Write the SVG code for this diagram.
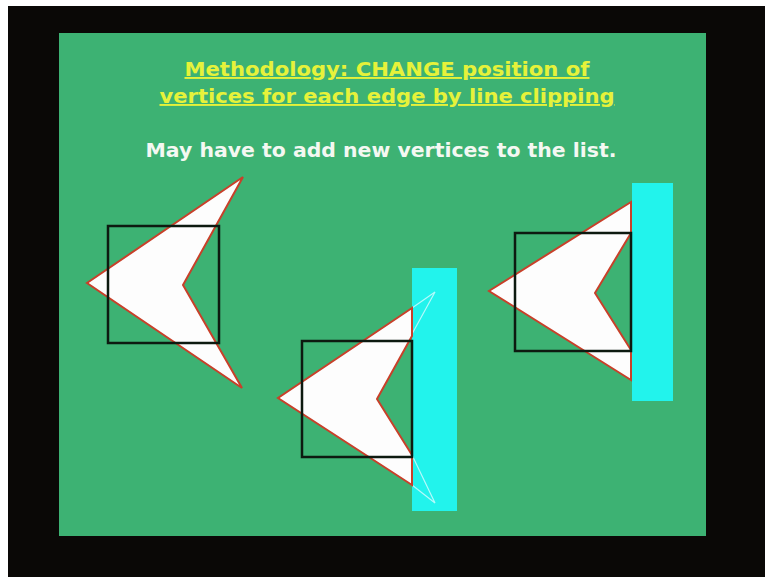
<svg xmlns="http://www.w3.org/2000/svg" width="765" height="577" viewBox="0 0 765 577">
<style>
.poly{fill:#fdfdfd;stroke:#c8402a;stroke-width:2;stroke-linejoin:miter}
.win{fill:none;stroke:#0d1a10;stroke-width:2.5}
.clip{fill:#22f3ec}
.ghost{fill:none;stroke:#d8fbff;stroke-width:1.2;opacity:0.8}
.title{font-family:"DejaVu Sans",Verdana,sans-serif;font-weight:bold;font-size:19px;fill:#e6f23a;text-decoration:underline}
.sub{font-family:"DejaVu Sans",Verdana,sans-serif;font-weight:bold;font-size:19px;fill:#f4f8f2}
</style>
<rect x="0" y="0" width="765" height="577" fill="#ffffff"/>
<rect x="8" y="6" width="757" height="571" fill="#0a0806"/>
<rect x="59" y="33" width="647" height="503" fill="#3db273"/>
<g id="title">
<text class="title" x="387" y="76" text-anchor="middle" textLength="405" lengthAdjust="spacingAndGlyphs">Methodology: CHANGE position of</text>
<text class="title" x="387" y="103" text-anchor="middle" textLength="455" lengthAdjust="spacingAndGlyphs">vertices for each edge by line clipping</text>
<text class="sub" x="381" y="157" text-anchor="middle" textLength="471" lengthAdjust="spacingAndGlyphs">May have to add new vertices to the list.</text>
</g>
<g id="figure1">
<polygon class="poly" points="243,177 87,283 242,388 183,285"/>
<rect class="win" x="108" y="226" width="111" height="117"/>
</g>
<g id="figure2">
<rect class="clip" x="412" y="268" width="45" height="243"/>
<polyline class="ghost" points="412,308 435,292 412,334"/>
<polyline class="ghost" points="412,455 435,503 412,485"/>
<polygon class="poly" points="412,308 278,398 412,485 412,455 377,399 412,336"/>
<rect class="win" x="302" y="341" width="110" height="116"/>
</g>
<g id="figure3">
<rect class="clip" x="632" y="183" width="41" height="218"/>
<polygon class="poly" points="631,202 489,291 631,380 631,350 595,293 631,233"/>
<rect class="win" x="515" y="233" width="116" height="118"/>
</g>
</svg>
